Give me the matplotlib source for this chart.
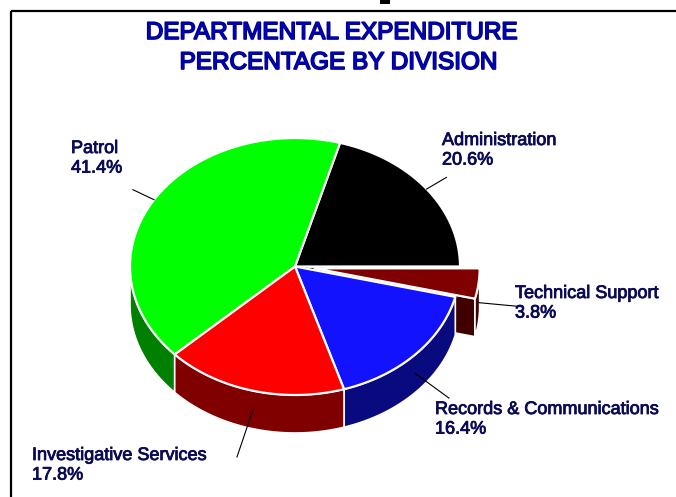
import numpy as np
import matplotlib
matplotlib.use("Agg")
import matplotlib.pyplot as plt
from matplotlib.patches import Polygon
import matplotlib.patheffects as pe

# data
labels = ['Administration', 'Patrol', 'Investigative Services',
          'Records & Communications', 'Technical Support']
values = [20.6, 41.4, 17.8, 16.4, 3.8]
top_colors = ['#000000', '#00ff00', '#ff0000', '#1212ff', '#800000']
side_colors = ['#000000', '#008000', '#800000', '#0a0a80', '#400000']
explode = [0, 0, 0, 0, 0.12]

# layout (pixel coords of the 676x497 canvas)
cx, cy = 295, 266.5
rx, ry = 165, 128.5
depth = 38
label_pos = [(442, 132), (71, 140), (32, 447), (435, 401), (515, 285)]
leader_len = [1.15, 1.15, 1.38, 1.28, 1.27]
text_col = '#0b0b55'

fig = plt.figure(figsize=(6.76, 4.97), dpi=100)
ax = fig.add_axes([0, 0, 1, 1])
ax.set_xlim(0, 676)
ax.set_ylim(497, 0)
ax.axis('off')

# frame
ax.plot([10.5, 676], [11, 11], color='black', lw=1.6, solid_capstyle='butt')
ax.plot([10.5, 10.5], [11, 497], color='black', lw=1.6, solid_capstyle='butt')
ax.add_patch(plt.Rectangle((380, 0), 10, 3.5, color='black', lw=0))


def pt(theta, r=1.0, off=(0, 0), dz=0):
    t = np.radians(theta)
    return (cx + off[0] + r * rx * np.cos(t), cy + off[1] - r * ry * np.sin(t) + dz)


def arc(a1, a2, off, dz=0, n=60):
    th = np.linspace(a1, a2, n)
    return [pt(t, 1.0, off, dz) for t in th]


total = sum(values)
starts = np.concatenate([[0], np.cumsum(values)[:-1]]) / total * 360
ends = np.cumsum(values) / total * 360
mids = (starts + ends) / 2

offsets = []
for i in range(len(values)):
    t = np.radians(mids[i])
    offsets.append((explode[i] * rx * np.cos(t), -explode[i] * ry * np.sin(t)))

# back to front
order = sorted(range(len(values)), key=lambda i: -np.sin(np.radians(mids[i])))

# side walls first
for i in order:
    a1, a2, off = starts[i], ends[i], offsets[i]
    c0 = (cx + off[0], cy + off[1])
    c1 = (c0[0], c0[1] + depth)
    if np.cos(np.radians(a1)) > 0:
        p, q = pt(a1, 1, off), pt(a1, 1, off, depth)
        ax.add_patch(Polygon([c0, p, q, c1], closed=True, fc=side_colors[i],
                             ec='white', lw=1.2))
    if np.cos(np.radians(a2)) < 0:
        p, q = pt(a2, 1, off), pt(a2, 1, off, depth)
        ax.add_patch(Polygon([c0, p, q, c1], closed=True, fc=side_colors[i],
                             ec='white', lw=1.2))
    w1, w2 = max(a1, 180), min(a2, 360)
    if w2 > w1:
        wall = arc(w1, w2, off) + arc(w2, w1, off, depth)
        ax.add_patch(Polygon(wall, closed=True, fc=side_colors[i],
                             ec='white', lw=1.2, joinstyle='round'))

# then top faces
for i in order:
    off = offsets[i]
    c0 = (cx + off[0], cy + off[1])
    top = [c0] + arc(starts[i], ends[i], off)
    ax.add_patch(Polygon(top, closed=True, fc=top_colors[i],
                         ec='white', lw=1.6, joinstyle='round'))

# leader lines and labels
for i in range(len(values)):
    front = np.sin(np.radians(mids[i])) < 0
    dz = depth / 2 if front else 0
    p = pt(mids[i], 1.0, offsets[i], dz)
    q = pt(mids[i], leader_len[i], offsets[i], dz)
    ax.plot([p[0], q[0]], [p[1], q[1]], color='black', lw=0.8)
    ax.text(label_pos[i][0], label_pos[i][1], f"{labels[i]}\n{values[i]:.1f}%",
            ha='left', va='top', fontsize=13, family='Liberation Sans',
            color=text_col, linespacing=1.2,
            path_effects=[pe.withStroke(linewidth=0.6, foreground=text_col)])

title_fx = [pe.withStroke(linewidth=1.2, foreground='#000070')]
ax.text(331, 22, 'DEPARTMENTAL EXPENDITURE', ha='center', va='top',
        fontsize=17.5, family='Liberation Sans', color='#0000c0',
        path_effects=title_fx)
ax.text(338, 52, 'PERCENTAGE BY DIVISION', ha='center', va='top',
        fontsize=17.5, family='Liberation Sans', color='#0000c0',
        path_effects=title_fx)

fig.savefig('out.png', dpi=100)
